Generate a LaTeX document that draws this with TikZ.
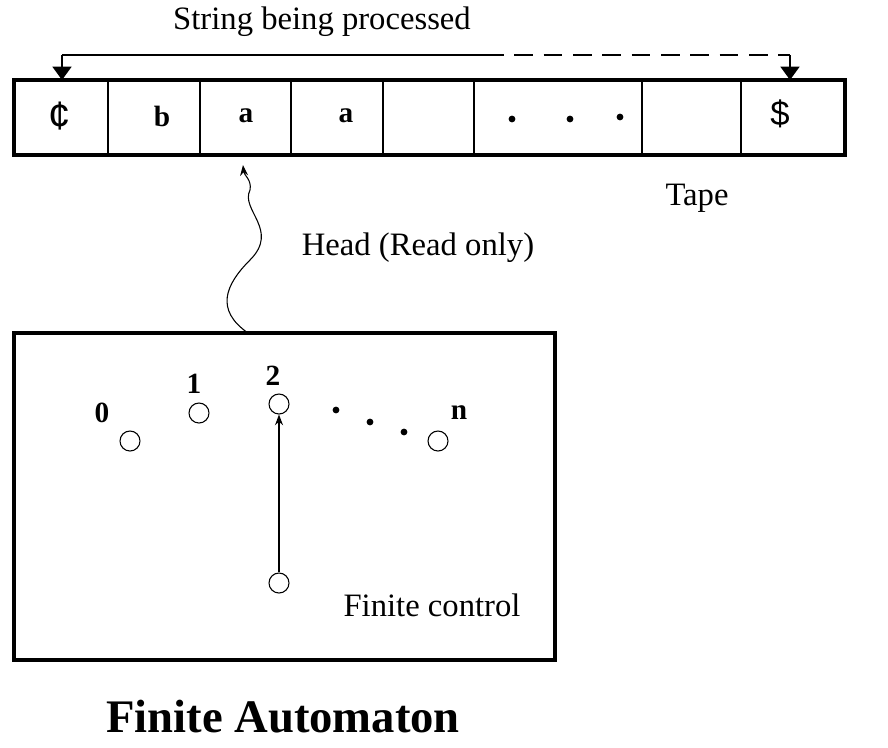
\documentclass[tikz,border=0pt]{standalone}
\usepackage{fontspec}
\setmainfont{Liberation Serif}
\newfontfamily\sansf{Liberation Sans}
\usetikzlibrary{arrows.meta}
\begin{document}
\begin{tikzpicture}[x=0.75pt,y=-0.75pt,
  thickbox/.style={line width=3pt},
  st/.style={circle,draw,line width=0.8pt,minimum size=15pt,inner sep=0pt},
  lab/.style={font=\fontsize{22}{24}\selectfont\bfseries},
  txt/.style={font=\fontsize{24.5}{28}\selectfont},
  dot/.style={circle,fill,inner sep=1.8pt}]
\useasboundingbox (0,0) rectangle (888,747);
% tape
\draw[thickbox] (14,80) rectangle (845,155);
\foreach \x in {108,200,291,383,474,642,741} \draw[line width=0.8pt] (\x,80) -- (\x,155);
\node[font=\fontsize{30}{32}\selectfont\sansf] (c0) at (60,116) {¢};
\node[lab] (cb) at (162,116) {b};
\node[lab] (ca) at (246,116) {a};
\node[lab] (ca2) at (346,116) {a};
\node[dot] (d1) at (512,119) {};
\node[dot] (d2) at (570,119) {};
\node[dot] (d3) at (620,117) {};
\node[font=\fontsize{26}{28}\selectfont\sansf] (cd) at (780,114) {\$};
% top bracket
\node[txt] (title) at (322,22) {String being processed};
\coordinate (tl) at (62,55); \coordinate (tr) at (790,55);
\coordinate (tm) at (485,55);
\draw[line width=1.5pt] (tl) -- (tm);
\draw[line width=1.5pt,dash pattern=on 14pt off 8pt] (tm) -- (tr);
\draw[line width=2pt,-{Triangle[width=14pt,length=10pt]}] (tl) -- (62,80);
\draw[line width=2pt,-{Triangle[width=14pt,length=10pt]}] (tr) -- (790,80);
\node[txt] (tape) at (697,198) {Tape};
% head
\coordinate (hb) at (248,333);
\coordinate (ht) at (243,165);
\draw[line width=0.8pt,-{Stealth[length=8pt]}] (hb) .. controls (215,310) and (225,285) .. (250,260) .. controls (280,230) and (240,210) .. (250,190) .. controls (252,180) and (244,175) .. (ht);
\node[txt] (head) at (418,248) {Head (Read only)};
% control box
\draw[thickbox] (14,333) rectangle (555,660);
\node[st] (s0) at (130,441) {};
\node[st] (s1) at (199,413) {};
\node[st] (s2) at (279,404) {};
\node[st] (sn) at (438,441) {};
\node[st] (sb) at (279,583) {};
\node[lab] (l0) at (102,413) {0};
\node[lab] (l1) at (194,384) {1};
\node[lab] (l2) at (273,376) {2};
\node[lab] (ln) at (459,413) {n};
\node[dot] (e1) at (336,410) {};
\node[dot] (e2) at (370,422) {};
\node[dot] (e3) at (404,432) {};
\draw[line width=0.8pt,-{Stealth[length=8pt]}] (sb) -- (s2);
\node[txt] (fc) at (432,605) {Finite control};
\node[font=\fontsize{35}{40}\selectfont\bfseries] (fa) at (283,717) {Finite Automaton};
\end{tikzpicture}
\end{document}
